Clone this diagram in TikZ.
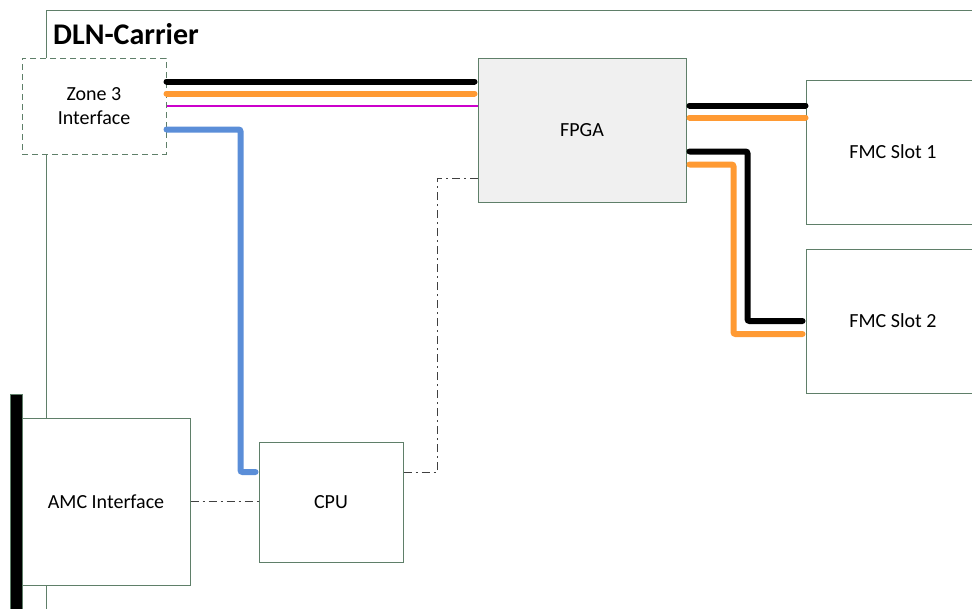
\documentclass[tikz,border=0pt]{standalone}
\usepackage{fontspec}
\setmainfont{Carlito}
\usepackage{tikz}
\usetikzlibrary{arrows.meta, positioning, backgrounds}
\definecolor{dlnFrame}{HTML}{5F7F69}
\definecolor{dlnFill}{HTML}{F0F0F0}
\definecolor{dlnOrange}{HTML}{FF9A33}
\definecolor{dlnBlue}{HTML}{5B8ED8}
\definecolor{dlnMagenta}{HTML}{CC00CC}
\definecolor{dlnLink}{HTML}{404040}

\tikzset{
  blockbox/.style={draw=dlnFrame, line width=1pt, fill=white, inner sep=0pt,
                   align=center, font=\fontsize{20}{24}\selectfont},
  zonebox/.style={blockbox, dashed, dash pattern=on 6pt off 4pt},
  wire/.style={line width=6pt, line cap=round, rounded corners=2pt},
  ctrl/.style={draw=dlnLink, line width=1pt, dash pattern=on 8pt off 4pt on 2pt off 4pt}
}

\begin{document}
\begin{tikzpicture}[x=1pt, y=-1pt]
  \useasboundingbox (0,0) rectangle (972,608);

  % blocks
  \node[zonebox, minimum width=144pt, minimum height=96pt] (zone) at (94,106) {Zone 3\\Interface};
  \node[blockbox, fill=dlnFill, minimum width=208pt, minimum height=144pt] (fpga) at (582,130) {FPGA};
  \node[blockbox, minimum width=174pt, minimum height=144pt] (fmcA) at (893,152) {FMC Slot 1};
  \node[blockbox, minimum width=174pt, minimum height=144pt] (fmcB) at (893,321) {FMC Slot 2};
  \node[blockbox, minimum width=168pt, minimum height=167pt] (amc) at (106,501.5) {AMC Interface};
  \node[blockbox, minimum width=144pt, minimum height=120pt] (cpu) at (331,502) {CPU};
  \node[anchor=base west, inner sep=0pt, font=\fontsize{30}{36}\selectfont\bfseries] (title) at (53,44) {DLN-Carrier};

  % carrier outline and backplane edge
  \begin{scope}[on background layer]
    \draw[dlnFrame, line width=1pt] (46,620) -- (46,10) -- (980,10);
  \end{scope}
  \draw[draw=dlnFrame, fill=black, line width=1pt] (10,394) rectangle (22,620);

  % zone 3 to fpga
  \draw[wire, black, shorten >=3pt] ([yshift=-24pt]zone.north east) -- ([yshift=-24pt]fpga.north west);
  \draw[wire, dlnOrange, shorten >=3pt] ([yshift=-36pt]zone.north east) -- ([yshift=-36pt]fpga.north west);
  \draw[dlnMagenta, line width=2pt] (zone.east) -- (fpga.west |- zone.east);
  \draw[wire, dlnBlue, shorten >=3pt] ([yshift=-72pt]zone.north east) -- ++(74,0) |- ([yshift=30pt]cpu.west);

  % fpga to fmc slots
  \draw[wire, black, shorten <=3pt] ([yshift=-48pt]fpga.north east) -- ([yshift=-26pt]fmcA.north west);
  \draw[wire, dlnOrange, shorten <=3pt] ([yshift=-60pt]fpga.north east) -- ([yshift=-38pt]fmcA.north west);
  \draw[wire, black, shorten <=3pt, shorten >=3pt] ([yshift=-94pt]fpga.north east) -- ++(61,0) |- (fmcB.west);
  \draw[wire, dlnOrange, shorten <=3pt, shorten >=3pt] ([yshift=-107pt]fpga.north east) -- ++(47,0) |- ([yshift=-13pt]fmcB.west);

  % control links
  \draw[ctrl] ([yshift=30pt]cpu.east) -- ++(34,0) |- ([yshift=24pt]fpga.south west);
  \draw[ctrl] (amc.east) -- (cpu.west |- amc.east);
\end{tikzpicture}
\end{document}
